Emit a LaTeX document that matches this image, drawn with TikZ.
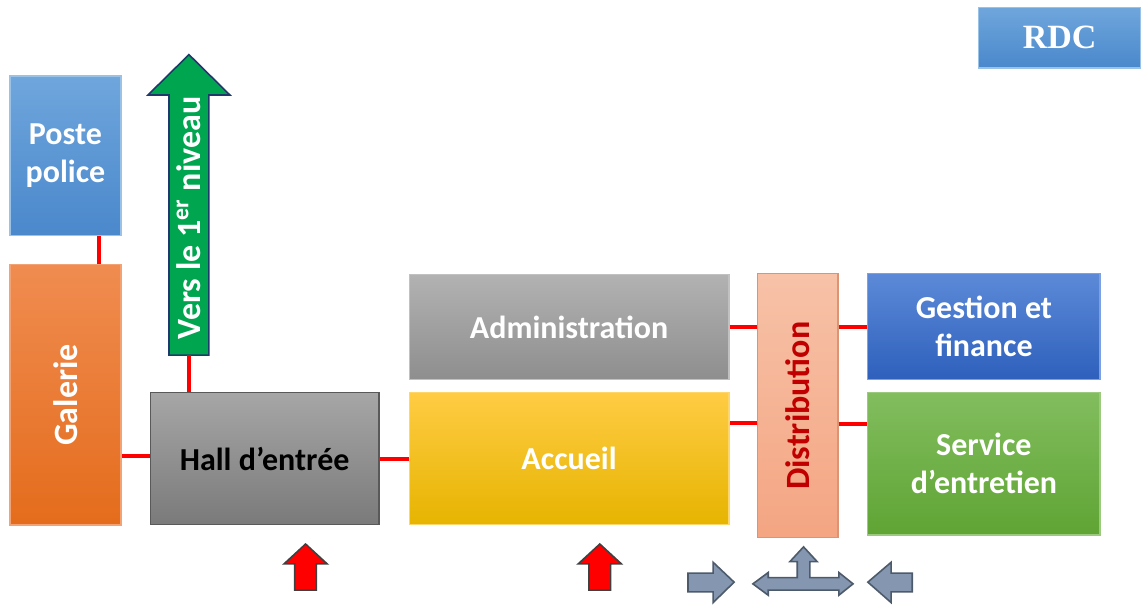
\documentclass[tikz,border=0pt]{standalone}
\usepackage{fontspec}
\setmainfont{Carlito}
\newfontfamily\rdcfont{Liberation Serif}
\usetikzlibrary{positioning}

\definecolor{posteHaut}{HTML}{6FA6DC}
\definecolor{posteBas}{HTML}{4A88CC}
\definecolor{galHaut}{HTML}{F08C50}
\definecolor{galBas}{HTML}{E46C1C}
\definecolor{vert}{HTML}{00A550}
\definecolor{bordVert}{HTML}{1F3A6A}
\definecolor{hallHaut}{HTML}{A6A6A6}
\definecolor{hallBas}{HTML}{7A7A7A}
\definecolor{admHaut}{HTML}{B2B2B2}
\definecolor{admBas}{HTML}{8E8E8E}
\definecolor{accHaut}{HTML}{FFCC44}
\definecolor{accBas}{HTML}{E6B400}
\definecolor{disHaut}{HTML}{F7C2A8}
\definecolor{disBas}{HTML}{F4A582}
\definecolor{disTexte}{HTML}{C00000}
\definecolor{gesHaut}{HTML}{5C8AD8}
\definecolor{gesBas}{HTML}{2E60BC}
\definecolor{serHaut}{HTML}{82BD5E}
\definecolor{serBas}{HTML}{5FA434}
\definecolor{fleche}{HTML}{8496B0}
\definecolor{bordFleche}{HTML}{4D5A6A}

\begin{document}
\begin{tikzpicture}[
    salle/.style={rectangle, inner sep=2pt, align=center, text=white, line width=0.6pt,
        font=\fontsize{16}{19}\selectfont\bfseries},
    vertical/.style={rotate=90, font=\fontsize{17}{20}\selectfont\bfseries},
    lien/.style={red, line width=2pt},
    entree/.style={fill=red, draw=black!75, line width=0.8pt, line join=miter},
    sortie/.style={fill=fleche, draw=bordFleche, line width=0.8pt, line join=miter}
]
    \useasboundingbox (0,0) rectangle (20.05,10.63);

    % salles
    \node[salle, top color=posteHaut, bottom color=posteBas, draw=posteHaut!70!white,
        minimum width=1.95cm, minimum height=2.81cm] (poste) at (1.15,7.89) {Poste\\police};
    \node[salle, top color=galHaut, bottom color=galBas, draw=galHaut!80!white,
        minimum width=1.95cm, minimum height=4.57cm] (galerie) at (1.15,3.69) {};
    \node[vertical, text=white] at (galerie) {Galerie};
    \node[salle, text=black, top color=hallHaut, bottom color=hallBas, draw=black!65,
        minimum width=4.02cm, minimum height=2.32cm] (hall) at (4.65,2.57) {Hall d’entrée};
    \node[salle, top color=admHaut, bottom color=admBas, draw=admHaut!80!white,
        minimum width=5.62cm, minimum height=1.85cm] (admin) at (10.0,4.88) {Administration};
    \node[salle, top color=accHaut, bottom color=accBas, draw=accHaut!80!white,
        minimum width=5.62cm, minimum height=2.32cm] (accueil) at (10.0,2.57) {Accueil};
    \node[salle, top color=disHaut, bottom color=disBas, draw=disBas!90!black,
        minimum width=1.41cm, minimum height=4.64cm] (distrib) at (14.02,3.50) {};
    \node[vertical, text=disTexte] at (distrib) {Distribution};
    \node[salle, top color=gesHaut, bottom color=gesBas, draw=gesHaut!80!white,
        minimum width=4.08cm, minimum height=1.86cm] (gestion) at (17.29,4.89) {Gestion et\\finance};
    \node[salle, top color=serHaut, bottom color=serBas, draw=serHaut!80!white,
        minimum width=4.08cm, minimum height=2.50cm] (service) at (17.29,2.48) {Service\\d’entretien};
    \node[salle, top color=posteHaut, bottom color=posteBas, draw=posteHaut!70!white,
        minimum width=2.86cm, minimum height=1.07cm, font=\fontsize{17}{20}\selectfont\rdcfont\bfseries]
        (rdc) at (18.62,9.97) {RDC};

    % vers le 1er niveau
    \draw[fill=vert, draw=bordVert, line width=0.8pt, line join=miter]
        (2.97,4.39) -- (2.97,8.96) -- (2.60,8.96) -- (3.32,9.67) -- (4.04,8.96)
        -- (3.67,8.96) -- (3.67,4.39) -- cycle;
    \coordinate (niveau) at (3.32,4.39);
    \node[vertical, text=white] (etage) at (3.32,6.80) {Vers le 1\textsuperscript{er} niveau};

    % liaisons
    \draw[lien] ([xshift=0.59cm]poste.south) -- ([xshift=0.59cm]galerie.north);
    \draw[lien] ([yshift=0.05cm]hall.west) -- ([yshift=0.05cm]hall.west -| galerie.east);
    \draw[lien] (hall.north -| niveau) -- (niveau);
    \draw[lien] (hall.east) -- (accueil.west);
    \draw[lien] (admin.east) -- (admin.east -| distrib.west);
    \draw[lien] ([yshift=-0.30cm]distrib.west) -- ([yshift=-0.30cm]distrib.west -| accueil.east);
    \draw[lien] (distrib.east |- gestion.west) -- (gestion.west);
    \draw[lien] ([yshift=-0.32cm]distrib.east) -- ([yshift=-0.32cm]distrib.east -| service.west);

    % entrees
    \foreach \x in {5.37,10.54}
        \draw[entree] (\x,1.07) -- ++(0.38,-0.35) -- ++(-0.19,0) -- ++(0,-0.46)
            -- ++(-0.38,0) -- ++(0,0.46) -- ++(-0.19,0) -- cycle;

    % circulation
    \draw[sortie] (12.09,0.23) -- (12.09,0.56) -- (12.53,0.56) -- (12.53,0.75)
        -- (12.90,0.40) -- (12.53,0.04) -- (12.53,0.23) -- cycle;
    \draw[sortie] (13.23,0.37) -- (13.50,0.57) -- (13.50,0.48) -- (14.01,0.48)
        -- (14.01,0.76) -- (13.88,0.76) -- (14.12,1.02) -- (14.36,0.76) -- (14.23,0.76)
        -- (14.23,0.48) -- (14.74,0.48) -- (14.74,0.57) -- (14.99,0.37) -- (14.74,0.17)
        -- (14.74,0.26) -- (13.50,0.26) -- (13.50,0.17) -- cycle;
    \draw[sortie] (16.03,0.23) -- (16.03,0.56) -- (15.66,0.56) -- (15.66,0.75)
        -- (15.25,0.40) -- (15.66,0.04) -- (15.66,0.23) -- cycle;
\end{tikzpicture}
\end{document}
